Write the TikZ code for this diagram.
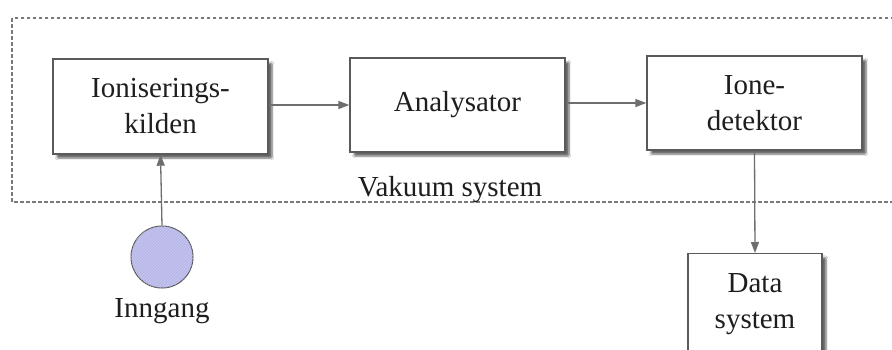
\documentclass[tikz,border=0pt]{standalone}
\usepackage{fontspec}
\setmainfont{Liberation Serif}
\usetikzlibrary{shadows.blur,patterns,arrows.meta}
\definecolor{boxline}{HTML}{5A5A5A}
\definecolor{arrowcol}{HTML}{6E6E6E}
\definecolor{dashcol}{HTML}{7A7A7A}
\definecolor{lav}{HTML}{B9B9EA}
\definecolor{txt}{HTML}{1E1E1E}
\tikzset{
  blockbox/.style={draw=boxline, line width=1.4pt, fill=white, inner sep=0pt,
    align=center, text=txt, font=\fontsize{29}{36}\selectfont,
    blur shadow={shadow xshift=4pt, shadow yshift=-4pt, shadow blur steps=6, shadow blur extra rounding=1pt, shadow opacity=60}},
  flowarrow/.style={draw=arrowcol, line width=1.3pt, -{Triangle[length=11pt,width=8pt]}},
  vacbox/.style={draw=dashcol, line width=1.8pt, dash pattern=on 3.5pt off 2.5pt},
  lbl/.style={text=txt, font=\fontsize{29}{36}\selectfont, inner sep=0pt},
}
\begin{document}
\begin{tikzpicture}[x=1pt,y=-1pt]
\useasboundingbox (0,0) rectangle (892,349);
\clip (0,0) rectangle (892,349);
\fill[white] (0,0) rectangle (892,349);
\draw[vacbox] (12,18) rectangle (905,202);
\node[blockbox, minimum width=215pt, minimum height=95pt] (kilde) at (160.5,106.5) {Ioniserings-\\kilden};
\node[blockbox, minimum width=215pt, minimum height=94pt] (analys) at (457.5,105) {Analysator};
\node[blockbox, minimum width=215pt, minimum height=94pt] (detekt) at (754.5,103) {Ione-\\detektor};
\node[blockbox, minimum width=134pt, minimum height=110pt, anchor=north] (data) at (755,253) {};
\node[lbl, align=center] (datatxt) at (755,304) {Data\\system};
\node[circle, draw=boxline, line width=1pt, fill=lav, minimum size=62pt, inner sep=0pt,
  postaction={pattern=north east lines, pattern color=lav!60!white, opacity=0.5}] (inn) at (162,257) {};
\node[lbl, anchor=base] (innlbl) at (162,317) {Inngang};
\node[lbl, anchor=base] (vak) at (450,196) {Vakuum system};
\draw[flowarrow] (kilde.east |- analys.west) -- (analys.west);
\draw[flowarrow] (analys.east |- detekt.west) -- (detekt.west);
\draw[flowarrow] (inn.north) -- (kilde.south);
\draw[flowarrow] (detekt.south) -- (data.north);
\end{tikzpicture}
\end{document}
